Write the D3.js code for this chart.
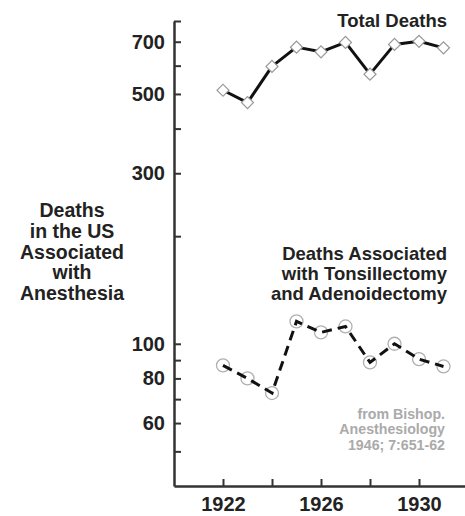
<!DOCTYPE html>
<html><head><meta charset="utf-8">
<script src="https://cdn.jsdelivr.net/npm/d3@7"></script>
<style>
html,body{margin:0;padding:0;background:#fff;}
svg{display:block;font-family:"Liberation Sans",Arial,Helvetica,sans-serif;font-weight:bold;}
</style></head>
<body><svg id="c" width="465" height="516"></svg>
<script>
const years = [1922,1923,1924,1925,1926,1927,1928,1929,1930,1931];
const totalDeaths = [512,473,597,676,656,697,568,688,702,673];
const tonsilDeaths = [87,80,72.8,115.5,107.6,111.8,88.7,100,90.6,86.4];
const yTicks = [50,60,70,80,90,100,200,300,400,500,600,700,800];
const yLabels = [60,80,100,300,500,700];
const xTicks = [1922,1924,1926,1928,1930];
const xLabels = [1922,1926,1930];
const yTitle = ["Deaths","in the US","Associated","with","Anesthesia"];
const totalTitle = ["Total Deaths"];
const tonsilTitle = ["Deaths Associated","with Tonsillectomy","and Adenoidectomy"];
const sourceText = ["from Bishop.","Anesthesiology","1946; 7:651-62"];

const svg = d3.select("#c");
const x = d3.scaleLinear().domain([1920,1932]).range([174,468]);
const y = d3.scaleLog().domain([40,800]).range([486,21]);

// axes
const yAxis = d3.axisLeft(y).tickValues(yTicks).tickSizeInner(-7).tickSizeOuter(0).tickPadding(9)
  .tickFormat(d => yLabels.includes(d) ? d : "");
const gy = svg.append("g").attr("transform","translate(174,0)").call(yAxis);
const xAxis = d3.axisBottom(x).tickValues(xTicks).tickSizeInner(-7).tickSizeOuter(0).tickPadding(11)
  .tickFormat(d => xLabels.includes(d) ? d : "");
const gx = svg.append("g").attr("transform","translate(0,486)").call(xAxis);
[gx,gy].forEach(g=>{
  g.select(".domain").attr("stroke","#333").attr("stroke-width",2.5);
  g.selectAll(".tick line").attr("stroke","#333").attr("stroke-width",2);
  g.selectAll(".tick text").attr("fill","#222").style("font-size","20px").style("font-family","'Liberation Sans',Arial,sans-serif").style("font-weight","bold");
});

// total deaths line
const line = d3.line().x((d,i)=>x(years[i])).y(d=>y(d));
svg.append("path").datum(totalDeaths).attr("d",line).attr("fill","none")
  .attr("stroke","#111").attr("stroke-width",3).attr("stroke-linejoin","round");
svg.selectAll(".dia").data(totalDeaths).join("path").attr("class","dia")
  .attr("d", d3.symbol().type(d3.symbolSquare).size(72))
  .attr("transform",(d,i)=>`translate(${x(years[i])},${y(d)}) rotate(45)`)
  .attr("fill","#fff").attr("stroke","#999").attr("stroke-width",1.2);

// tonsillectomy series
svg.selectAll(".circ").data(tonsilDeaths).join("circle").attr("class","circ")
  .attr("cx",(d,i)=>x(years[i])).attr("cy",d=>y(d)).attr("r",6.5)
  .attr("fill","#fff").attr("stroke","#b0b0b0").attr("stroke-width",1.3);
svg.append("path").datum(tonsilDeaths).attr("d",line).attr("fill","none")
  .attr("stroke","#111").attr("stroke-width",3).attr("stroke-dasharray","10,6");

// texts
function block(lines, xp, y0, dy, anchor, size, color){
  svg.append("g").selectAll("text").data(lines).join("text")
    .attr("x",xp).attr("y",(d,i)=>y0+i*dy).attr("text-anchor",anchor)
    .style("font-size",size+"px").attr("fill",color).text(d=>d);
}
block(yTitle, 72, 217, 20.8, "middle", 19.5, "#222");
block(totalTitle, 447, 27, 20, "end", 18.5, "#222");
block(tonsilTitle, 447, 260, 20, "end", 18.5, "#222");
block(sourceText, 445, 418.5, 15.5, "end", 14.2, "#aaa");
</script></body></html>
